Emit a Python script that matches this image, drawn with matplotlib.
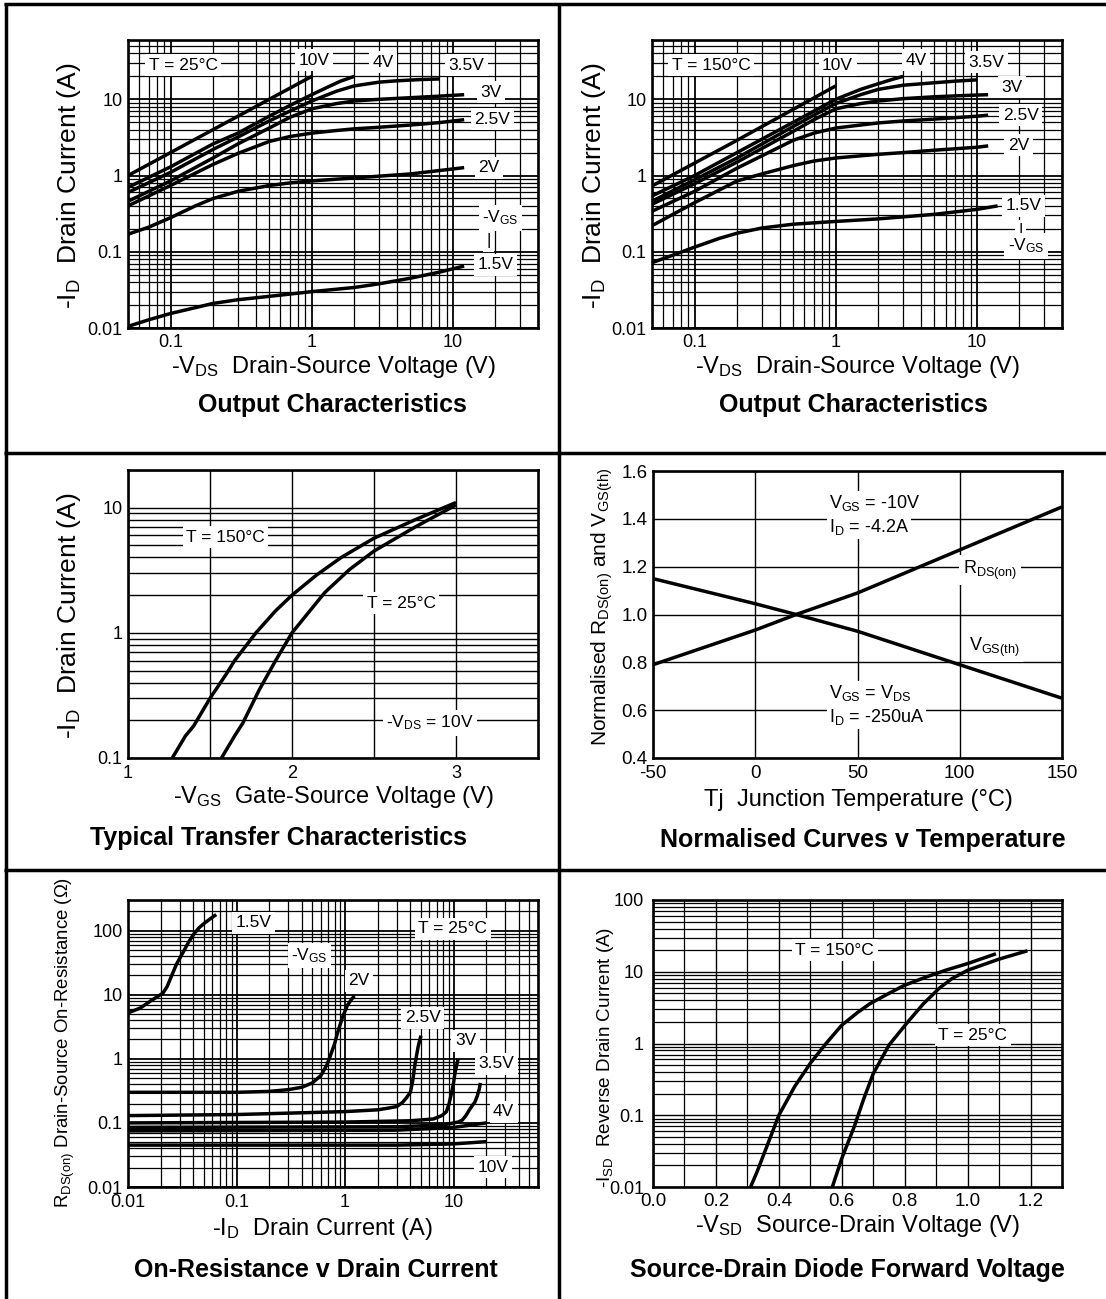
import matplotlib
matplotlib.use('Agg')
import matplotlib.pyplot as plt
from matplotlib.ticker import LogLocator, NullFormatter, FixedLocator
from matplotlib.lines import Line2D

plt.rcParams['font.family'] = ['Liberation Sans', 'DejaVu Sans']
plt.rcParams['mathtext.fontset'] = 'custom'
plt.rcParams['mathtext.rm'] = 'Liberation Sans'
plt.rcParams['mathtext.it'] = 'Liberation Sans:italic'
plt.rcParams['mathtext.bf'] = 'Liberation Sans:bold'

# ---------------- data ----------------
# Output characteristics, T = 25C  (-VDS [V], -ID [A])
o25_10v_vds = [0.05, 0.2, 1.0]
o25_10v_id = [1.0, 4.0, 20.0]
o25_4v_vds = [0.05, 0.1, 0.2, 0.3, 0.5, 0.7, 1.0, 1.3, 1.6, 2.0]
o25_4v_id = [0.70, 1.3, 2.6, 3.6, 6.0, 8.3, 11.5, 14.5, 17.3, 20.0]
o25_35v_vds = [0.05, 0.1, 0.2, 0.3, 0.5, 0.7, 1.0, 1.5, 2.0, 3.0, 4.0, 6.0, 8.0]
o25_35v_id = [0.60, 1.1, 2.2, 3.2, 5.2, 7.0, 9.5, 12.8, 15.0, 16.8, 17.5, 18.2, 18.5]
o25_3v_vds = [0.05, 0.1, 0.2, 0.3, 0.5, 0.7, 1.0, 1.5, 2.0, 3.0, 5.0, 8.0, 12.0]
o25_3v_id = [0.46, 0.85, 1.7, 2.6, 4.2, 5.8, 7.5, 8.8, 9.5, 10.0, 10.5, 11.0, 11.5]
o25_25v_vds = [0.05, 0.1, 0.2, 0.3, 0.5, 0.7, 1.0, 1.5, 2.0, 3.0, 5.0, 8.0, 12.0]
o25_25v_id = [0.40, 0.74, 1.4, 1.95, 2.8, 3.25, 3.6, 3.9, 4.1, 4.3, 4.6, 4.95, 5.4]
o25_2v_vds = [0.05, 0.07, 0.1, 0.15, 0.2, 0.3, 0.5, 0.7, 1.0, 2.0, 5.0, 12.0]
o25_2v_id = [0.17, 0.21, 0.28, 0.40, 0.50, 0.62, 0.74, 0.80, 0.85, 0.93, 1.05, 1.27]
o25_15v_vds = [0.05, 0.07, 0.1, 0.15, 0.2, 0.3, 0.5, 1.0, 2.0, 3.0, 5.0, 8.0, 12.0]
o25_15v_id = [0.0105, 0.0128, 0.0155, 0.0185, 0.021, 0.0235, 0.026, 0.030, 0.034,
              0.038, 0.045, 0.054, 0.065]

# Output characteristics, T = 150C
o150_10v_vds = [0.05, 0.2, 1.0]
o150_10v_id = [0.73, 2.9, 15.0]
o150_4v_vds = [0.05, 0.1, 0.2, 0.5, 0.7, 1.0, 1.5, 2.0, 2.5, 3.0]
o150_4v_id = [0.54, 1.0, 2.0, 5.0, 7.0, 10.0, 13.5, 16.0, 18.2, 20.0]
o150_35v_vds = [0.05, 0.1, 0.2, 0.5, 0.7, 1.0, 1.5, 2.0, 3.0, 5.0, 7.0, 10.0]
o150_35v_id = [0.46, 0.88, 1.7, 4.4, 6.2, 8.8, 11.5, 13.5, 15.3, 16.5, 17.3, 18.0]
o150_3v_vds = [0.05, 0.1, 0.2, 0.5, 0.7, 1.0, 1.5, 2.0, 3.0, 5.0, 8.0, 12.0]
o150_3v_id = [0.42, 0.78, 1.5, 3.8, 5.4, 7.5, 8.8, 9.5, 10.2, 10.8, 11.2, 11.5]
o150_25v_vds = [0.05, 0.1, 0.2, 0.5, 0.7, 1.0, 1.5, 2.0, 3.0, 5.0, 10.0, 12.0]
o150_25v_id = [0.34, 0.62, 1.25, 2.9, 3.6, 4.2, 4.6, 4.9, 5.2, 5.5, 6.0, 6.2]
o150_2v_vds = [0.05, 0.1, 0.2, 0.3, 0.5, 0.7, 1.0, 2.0, 3.0, 5.0, 10.0, 12.0]
o150_2v_id = [0.22, 0.44, 0.85, 1.05, 1.35, 1.55, 1.7, 1.9, 2.0, 2.15, 2.35, 2.45]
o150_15v_vds = [0.05, 0.07, 0.1, 0.15, 0.2, 0.3, 0.5, 1.0, 2.0, 5.0, 10.0, 14.0]
o150_15v_id = [0.072, 0.09, 0.115, 0.15, 0.175, 0.205, 0.23, 0.25, 0.27, 0.31, 0.36, 0.40]

# Typical transfer characteristics (-VGS [V], -ID [A])
tr150_vgs = [1.27, 1.35, 1.4, 1.5, 1.6, 1.65, 1.78, 1.9, 2.0, 2.15, 2.3, 2.5, 2.75, 3.0]
tr150_id = [0.1, 0.15, 0.18, 0.3, 0.47, 0.6, 1.0, 1.5, 2.0, 2.9, 4.0, 5.7, 8.0, 11.0]
tr25_vgs = [1.57, 1.65, 1.7, 1.8, 1.9, 2.0, 2.1, 2.2, 2.35, 2.5, 2.75, 3.0]
tr25_id = [0.1, 0.15, 0.19, 0.35, 0.6, 1.0, 1.45, 2.1, 3.2, 4.5, 7.0, 10.5]

# Normalised curves v temperature
tj = [-50, 0, 20, 50, 100, 150]
rds_norm = [0.79, 0.935, 1.0, 1.09, 1.27, 1.45]
vth_norm = [1.15, 1.045, 1.0, 0.93, 0.79, 0.65]

# On-resistance v drain current (-ID [A], RDS(on) [ohm])
r15_id = [0.01, 0.013, 0.016, 0.019, 0.021, 0.023, 0.025, 0.028, 0.032, 0.036, 0.04,
          0.045, 0.051, 0.058, 0.065]
r15_r = [5.2, 6.2, 7.9, 9.5, 10.6, 13.5, 19.0, 30.0, 45.0, 65.0, 86.0, 110.0, 132.0,
         155.0, 178.0]
r20_id = [0.01, 0.1, 0.2, 0.3, 0.4, 0.5, 0.6, 0.68, 0.73, 0.8, 0.85, 0.9, 0.95, 1.05,
          1.15, 1.22]
r20_r = [0.30, 0.30, 0.31, 0.33, 0.36, 0.42, 0.55, 0.8, 1.1, 1.7, 2.5, 3.4, 4.5, 6.8,
         8.5, 9.6]
r25_id = [0.01, 0.1, 1.0, 2.0, 2.5, 3.0, 3.4, 3.7, 4.0, 4.2, 4.4, 4.7, 5.0]
r25_r = [0.13, 0.135, 0.15, 0.16, 0.17, 0.18, 0.21, 0.25, 0.3, 0.45, 0.8, 1.5, 2.3]
r30_id = [0.01, 1.0, 4.0, 6.5, 7.8, 8.6, 9.1, 9.6, 10.0, 10.3, 10.7, 11.0]
r30_r = [0.10, 0.103, 0.108, 0.115, 0.13, 0.15, 0.2, 0.3, 0.42, 0.6, 0.8, 1.0]
r35_id = [0.01, 3.0, 8.0, 11.0, 12.0, 13.0, 14.0, 15.0, 15.7, 16.5, 17.2, 17.7]
r35_r = [0.085, 0.087, 0.093, 0.103, 0.11, 0.13, 0.16, 0.19, 0.21, 0.26, 0.33, 0.42]
r40_id = [0.01, 3.0, 10.0, 20.0]
r40_r = [0.075, 0.077, 0.085, 0.10]
r10_id = [0.01, 3.0, 10.0, 20.0]
r10_r = [0.045, 0.045, 0.047, 0.051]

# Source-drain diode forward voltage (-VSD [V], -ISD [A])
sd150_v = [0.31, 0.33, 0.36, 0.40, 0.45, 0.50, 0.55, 0.60, 0.65, 0.69, 0.75, 0.80, 0.87,
           0.93, 1.0, 1.09]
sd150_i = [0.01, 0.016, 0.035, 0.1, 0.25, 0.53, 1.0, 1.8, 2.7, 3.6, 5.0, 6.5, 8.5,
           10.5, 13.0, 17.8]
sd25_v = [0.57, 0.60, 0.64, 0.67, 0.70, 0.75, 0.81, 0.86, 0.91, 0.95, 1.0, 1.1, 1.19]
sd25_i = [0.01, 0.025, 0.07, 0.17, 0.38, 0.95, 2.0, 3.6, 5.9, 8.0, 10.5, 15.0, 19.6]

# tick labels
log_ticks_out = [0.1, 1, 10]
log_ticks_out_lbl = ['0.1', '1', '10']
id_ticks = [0.01, 0.1, 1, 10]
id_ticks_lbl = ['0.01', '0.1', '1', '10']
tr_xticks = [1, 2, 3]
tr_yticks = [0.1, 1, 10]
temp_ticks = [-50, 0, 50, 100, 150]
norm_ticks = [0.4, 0.6, 0.8, 1.0, 1.2, 1.4, 1.6]
norm_ticks_lbl = ['0.4', '0.6', '0.8', '1.0', '1.2', '1.4', '1.6']
r_xticks = [0.01, 0.1, 1, 10]
r_yticks = [0.01, 0.1, 1, 10, 100]
sd_xticks = [0.0, 0.2, 0.4, 0.6, 0.8, 1.0, 1.2]
sd_yticks = [0.01, 0.1, 1, 10, 100]

# ---------------- figure ----------------
W, H = 1106, 1299
fig = plt.figure(figsize=(W / 100, H / 100), dpi=100)

TICK = 13
ANN = 12.5
XL = 17
TITLE = 18
LW = 2.5


def rect(x0, y0, x1, y1):
    return [x0 / W, 1 - y1 / H, (x1 - x0) / W, (y1 - y0) / H]


def ftext(x, y, s, **kw):
    fig.text(x / W, 1 - y / H, s, **kw)


def fline(x0, y0, x1, y1):
    fig.add_artist(Line2D([x0 / W, x1 / W], [1 - y0 / H, 1 - y1 / H],
                          color='black', lw=2.5, transform=fig.transFigure,
                          solid_capstyle='butt'))


def style(ax, xpad=4, ypad=4, major_lw=1.1, minor_lw=0.75):
    for s in ax.spines.values():
        s.set_linewidth(1.9)
        s.set_zorder(4)
    ax.tick_params(which='both', length=0, labelsize=TICK)
    ax.tick_params(axis='x', pad=xpad)
    ax.tick_params(axis='y', pad=ypad)
    ax.grid(which='major', color='black', lw=major_lw)
    ax.grid(which='minor', color='black', lw=minor_lw)
    ax.set_axisbelow(True)


def logminor(axis):
    axis.set_minor_locator(LogLocator(base=10, subs=range(2, 10), numticks=50))
    axis.set_minor_formatter(NullFormatter())


def lab(ax, x, y, s, size=ANN, pad=2.5):
    ax.text(x, y, s, ha='center', va='center', fontsize=size, zorder=6,
            bbox=dict(facecolor='white', edgecolor='none', pad=pad))


def curve(ax, x, y):
    ax.plot(x, y, color='black', lw=LW, zorder=3, solid_capstyle='butt',
            solid_joinstyle='round')


# frame lines
fline(4, 4, W, 4)
fline(5.5, 3, 5.5, H)
fline(559, 3, 559, H)
fline(4, 453, W, 453)
fline(4, 870, W, 870)

# ---- Panels 1 & 2: output characteristics ----
for (x0, ttl_x, ylab_x, curves, labels) in [
    (128, 332, 69,
     [(o25_10v_vds, o25_10v_id), (o25_4v_vds, o25_4v_id), (o25_35v_vds, o25_35v_id),
      (o25_3v_vds, o25_3v_id), (o25_25v_vds, o25_25v_id), (o25_2v_vds, o25_2v_id),
      (o25_15v_vds, o25_15v_id)],
     [(0.123, 28, 'T = 25°C'), (1.04, 32.6, '10V'), (3.2, 30.7, '4V'), (12.5, 28, '3.5V'),
      (18.5, 12.4, '3V'), (19.0, 5.5, '2.5V'), (17.9, 1.27, '2V'),
      (21.7, 0.28, r'-$\mathregular{V_{GS}}$'), (17.9, 0.14, '|'), (20.0, 0.068, '1.5V')]),
    (652, 853, 594,
     [(o150_10v_vds, o150_10v_id), (o150_4v_vds, o150_4v_id), (o150_35v_vds, o150_35v_id),
      (o150_3v_vds, o150_3v_id), (o150_25v_vds, o150_25v_id), (o150_2v_vds, o150_2v_id),
      (o150_15v_vds, o150_15v_id)],
     [(0.131, 28, 'T = 150°C'), (1.03, 28, '10V'), (3.7, 32.6, '4V'), (11.7, 30.7, '3.5V'),
      (17.6, 14.4, '3V'), (20.4, 6.15, '2.5V'), (19.7, 2.5, '2V'), (21.4, 0.40, '1.5V'),
      (20.4, 0.19, '|'), (22.2, 0.12, r'-$\mathregular{V_{GS}}$')]),
]:
    ax = fig.add_axes(rect(x0, 40, x0 + 410, 328))
    ax.set_xscale('log')
    ax.set_yscale('log')
    ax.set_xlim(0.05, 40)
    ax.set_ylim(0.01, 60)
    ax.set_xticks(log_ticks_out, log_ticks_out_lbl)
    ax.set_yticks(id_ticks, id_ticks_lbl)
    logminor(ax.xaxis)
    logminor(ax.yaxis)
    style(ax, xpad=4, ypad=4, major_lw=1.3, minor_lw=0.9)
    for xs, ys in curves:
        curve(ax, xs, ys)
    for lx, ly, s in labels:
        lab(ax, lx, ly, s)
    xc = x0 + 206
    ftext(xc, 373, r'-$\mathregular{V_{DS}}$  Drain-Source Voltage (V)', ha='center',
          va='baseline', fontsize=XL)
    ftext(ttl_x, 412, 'Output Characteristics', ha='center', va='baseline',
          fontsize=TITLE, fontweight='bold')
    ftext(ylab_x, 186, r'-$\mathregular{I_D}$  Drain Current (A)', ha='center',
          va='center', rotation=90, fontsize=19)

# ---- Panel 3: transfer ----
ax3 = fig.add_axes(rect(128, 470, 538, 758))
ax3.set_yscale('log')
ax3.set_xlim(1, 3.5)
ax3.set_ylim(0.1, 20)
ax3.set_xticks(tr_xticks, ['1', '2', '3'])
ax3.xaxis.set_minor_locator(FixedLocator([1.5, 2.5]))
ax3.set_yticks(tr_yticks, ['0.1', '1', '10'])
logminor(ax3.yaxis)
style(ax3, xpad=5, ypad=4, major_lw=1.0, minor_lw=1.0)
curve(ax3, tr150_vgs, tr150_id)
curve(ax3, tr25_vgs, tr25_id)
lab(ax3, 1.594, 5.8, 'T = 150°C')
lab(ax3, 2.667, 1.72, 'T = 25°C')
lab(ax3, 2.84, 0.19, r'-$\mathregular{V_{DS}}$ = 10V')
ftext(333, 803, r'-$\mathregular{V_{GS}}$  Gate-Source Voltage (V)', ha='center',
      va='baseline', fontsize=XL)
ftext(279, 845, 'Typical Transfer Characteristics', ha='center', va='baseline',
      fontsize=TITLE, fontweight='bold')
ftext(69, 616, r'-$\mathregular{I_D}$  Drain Current (A)', ha='center', va='center',
      rotation=90, fontsize=19)

# ---- Panel 4: normalised curves ----
ax4 = fig.add_axes(rect(653, 471, 1062, 758))
ax4.set_xlim(-50, 150)
ax4.set_ylim(0.4, 1.6)
ax4.set_xticks(temp_ticks, [str(t) for t in temp_ticks])
ax4.set_yticks(norm_ticks, norm_ticks_lbl)
style(ax4, xpad=5, ypad=4, major_lw=1.0)
ax4.tick_params(labelsize=13.5)
curve(ax4, tj, rds_norm)
curve(ax4, tj, vth_norm)
for ty, s in [(1.466, r'$\mathregular{V_{GS}}$ = -10V'), (1.366, r'$\mathregular{I_D}$ = -4.2A'),
              (0.672, r'$\mathregular{V_{GS}}$ = $\mathregular{V_{DS}}$'),
              (0.571, r'$\mathregular{I_D}$ = -250uA')]:
    ax4.text(36, ty, s, ha='left', va='center', fontsize=13, zorder=6,
             bbox=dict(facecolor='white', edgecolor='none', pad=1.5))
lab(ax4, 114.8, 1.186, r'$\mathregular{R_{DS(on)}}$', size=13)
lab(ax4, 116.7, 0.864, r'$\mathregular{V_{GS(th)}}$', size=13)
ftext(858, 806, 'Tj  Junction Temperature (°C)', ha='center', va='baseline', fontsize=XL)
ftext(863, 847, 'Normalised Curves v Temperature', ha='center', va='baseline',
      fontsize=TITLE, fontweight='bold')
ftext(602, 607, r'Normalised $\mathregular{R_{DS(on)}}$ and $\mathregular{V_{GS(th)}}$',
      ha='center', va='center', rotation=90, fontsize=15)

# ---- Panel 5: on-resistance ----
ax5 = fig.add_axes(rect(128, 900, 538, 1187))
ax5.set_xscale('log')
ax5.set_yscale('log')
ax5.set_xlim(0.01, 60)
ax5.set_ylim(0.01, 300)
ax5.set_xticks(r_xticks, ['0.01', '0.1', '1', '10'])
ax5.set_yticks(r_yticks, ['0.01', '0.1', '1', '10', '100'])
logminor(ax5.xaxis)
logminor(ax5.yaxis)
style(ax5, xpad=5, ypad=4, major_lw=1.3, minor_lw=0.9)
for xs, ys in [(r15_id, r15_r), (r20_id, r20_r), (r25_id, r25_r), (r30_id, r30_r),
               (r35_id, r35_r), (r40_id, r40_r), (r10_id, r10_r)]:
    curve(ax5, xs, ys)
for lx, ly, s in [(0.143, 133, '1.5V'), (0.47, 41, r'-$\mathregular{V_{GS}}$'),
                  (1.34, 16.6, '2V'), (5.2, 4.4, '2.5V'), (12.9, 1.9, '3V'),
                  (25, 0.84, '3.5V'), (29, 0.149, '4V'), (23, 0.0205, '10V'),
                  (9.8, 107, 'T = 25°C')]:
    lab(ax5, lx, ly, s)
ftext(322, 1235, r'-$\mathregular{I_D}$  Drain Current (A)', ha='center', va='baseline',
      fontsize=XL)
ftext(316, 1277, 'On-Resistance v Drain Current', ha='center', va='baseline',
      fontsize=TITLE, fontweight='bold')
ftext(65, 1042, r'$\mathregular{R_{DS(on)}}$ Drain-Source On-Resistance (Ω)', ha='center',
      va='center', rotation=90, fontsize=13.4)

# ---- Panel 6: source-drain diode ----
ax6 = fig.add_axes(rect(653, 900, 1062, 1187))
ax6.set_yscale('log')
ax6.set_xlim(0.0, 1.3)
ax6.set_ylim(0.01, 100)
ax6.set_xticks(sd_xticks, ['%.1f' % v for v in sd_xticks])
ax6.xaxis.set_minor_locator(FixedLocator([0.1, 0.3, 0.5, 0.7, 0.9, 1.1]))
ax6.set_yticks(sd_yticks, ['0.01', '0.1', '1', '10', '100'])
logminor(ax6.yaxis)
style(ax6, xpad=4.5, ypad=6.5, major_lw=1.0, minor_lw=0.9)
ax6.tick_params(axis='x', labelsize=13.5)
curve(ax6, sd150_v, sd150_i)
curve(ax6, sd25_v, sd25_i)
lab(ax6, 0.578, 20, 'T = 150°C')
lab(ax6, 1.017, 1.31, 'T = 25°C')
ftext(858, 1232, r'-$\mathregular{V_{SD}}$  Source-Drain Voltage (V)', ha='center',
      va='baseline', fontsize=XL)
ftext(847, 1277, 'Source-Drain Diode Forward Voltage', ha='center', va='baseline',
      fontsize=TITLE, fontweight='bold')
ftext(605, 1057, r'-$\mathregular{I_{SD}}$  Reverse Drain Current (A)', ha='center',
      va='center', rotation=90, fontsize=13.6)

fig.savefig('out.png', dpi=100)
